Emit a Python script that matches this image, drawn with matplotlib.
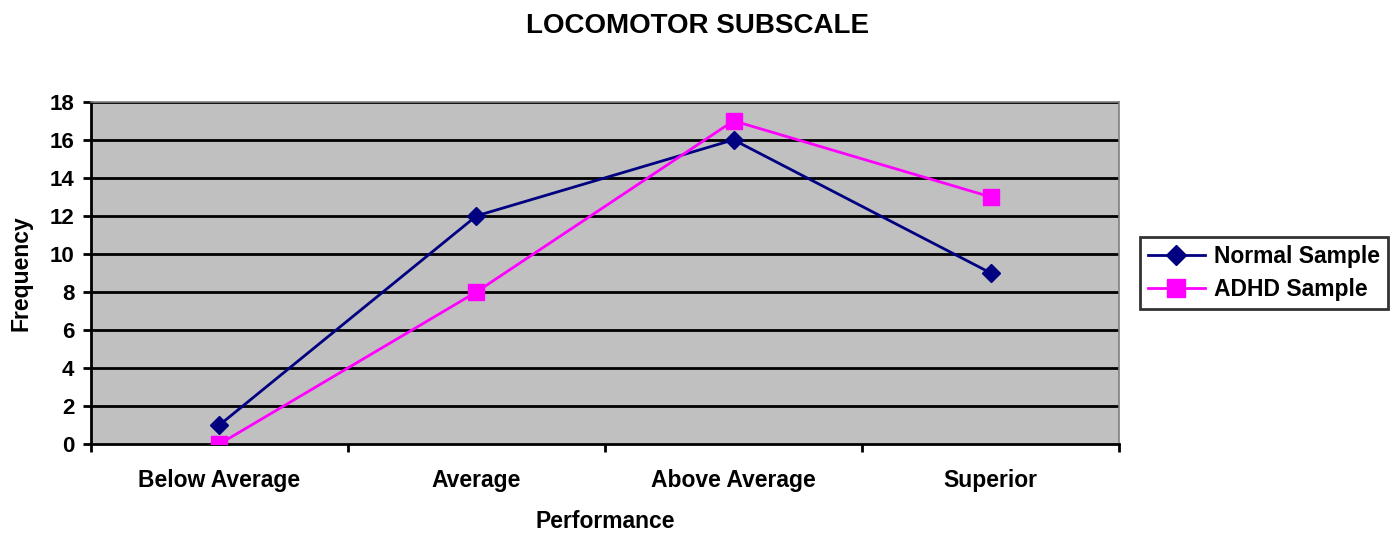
import matplotlib
matplotlib.use("Agg")
import matplotlib.pyplot as plt

# Chart data
categories = ["Below Average", "Average", "Above Average", "Superior"]
normal_sample = [1, 12, 16, 9]
adhd_sample = [0, 8, 17, 13]
y_ticks = [0, 2, 4, 6, 8, 10, 12, 14, 16, 18]

plt.rcParams["font.family"] = ["Liberation Sans", "DejaVu Sans"]
plt.rcParams["font.weight"] = "bold"

fig = plt.figure(figsize=(13.95, 5.33), dpi=100)
ax = fig.add_axes([0.0652, 0.167, 0.737, 0.642])
ax.set_facecolor("#c0c0c0")

x = list(range(len(categories)))
ax.plot(x, normal_sample, color="#000080", marker="D", markersize=9,
        linewidth=2, label="Normal Sample", zorder=3)
ax.plot(x, adhd_sample, color="#ff00ff", marker="s", markersize=11,
        linewidth=2, label="ADHD Sample", zorder=3)

ax.set_xlim(-0.5, len(categories) - 0.5)
ax.set_ylim(0, 18)
ax.set_yticks(y_ticks)
ax.set_yticklabels([str(v) for v in y_ticks], fontsize=16, fontweight="bold")
for v in y_ticks[1:]:
    ax.axhline(v, color="black", linewidth=2, zorder=1)

# category labels in the middle, tick marks at the boundaries
ax.set_xticks([i - 0.5 for i in range(len(categories) + 1)])
ax.set_xticklabels([])
ax.set_xticks(x, minor=True)
ax.set_xticklabels(categories, minor=True, fontsize=16.5, fontweight="bold")
ax.tick_params(axis="x", which="minor", length=0, pad=18)
ax.tick_params(axis="x", which="major", length=6, width=2, direction="out")
ax.tick_params(axis="y", length=6, width=2, direction="out", pad=6)

for side in ["left", "bottom"]:
    ax.spines[side].set_linewidth(2)
    ax.spines[side].set_color("black")
for side in ["top", "right"]:
    ax.spines[side].set_linewidth(1.2)
    ax.spines[side].set_color("#808080")

ax.set_xlabel("Performance", fontsize=16.5, fontweight="bold", labelpad=13)
ax.set_ylabel("Frequency", fontsize=16.5, fontweight="bold", labelpad=12)
fig.suptitle("LOCOMOTOR SUBSCALE", fontsize=20, fontweight="bold", y=0.975)

leg = ax.legend(loc="center left", bbox_to_anchor=(1.02, 0.5), fontsize=16.5,
                frameon=True, fancybox=False, edgecolor="black",
                handlelength=2.5, handletextpad=0.4, borderpad=0.35,
                labelspacing=0.45, borderaxespad=0, markerscale=1.15)
leg.get_frame().set_linewidth(2)
for t in leg.get_texts():
    t.set_fontweight("bold")

fig.savefig("out.png", dpi=100)
